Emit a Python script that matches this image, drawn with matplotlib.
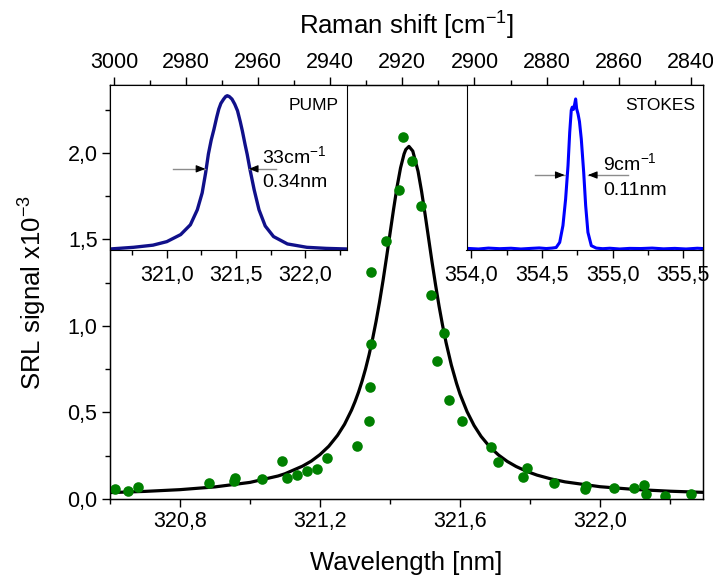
import matplotlib
matplotlib.use('Agg')
import matplotlib.pyplot as plt
from matplotlib.ticker import MultipleLocator, FuncFormatter

plt.rcParams['font.family'] = ['Liberation Sans', 'DejaVu Sans']
plt.rcParams['mathtext.fontset'] = 'custom'
plt.rcParams['mathtext.rm'] = 'Liberation Sans'
plt.rcParams['mathtext.it'] = 'Liberation Sans:italic'
plt.rcParams['mathtext.bf'] = 'Liberation Sans:bold'

# ---------------- data ----------------
srl_wavelength = [320.614, 320.651, 320.681, 320.882, 320.954, 320.958, 321.035, 321.092,
                  321.105, 321.135, 321.164, 321.190, 321.221, 321.305, 321.341, 321.343,
                  321.346, 321.346, 321.389, 321.427, 321.436, 321.462, 321.487, 321.516,
                  321.535, 321.554, 321.567, 321.606, 321.688, 321.709, 321.780, 321.792,
                  321.868, 321.957, 321.959, 322.041, 322.096, 322.125, 322.132, 322.185,
                  322.261]
srl_signal = [0.056, 0.046, 0.068, 0.091, 0.106, 0.120, 0.114, 0.220,
              0.123, 0.137, 0.162, 0.173, 0.239, 0.308, 0.451, 0.646,
              0.894, 1.310, 1.493, 1.786, 2.091, 1.955, 1.695, 1.181,
              0.798, 0.961, 0.572, 0.451, 0.302, 0.216, 0.125, 0.177,
              0.091, 0.056, 0.075, 0.062, 0.065, 0.081, 0.029, 0.019,
              0.029]

fit_wavelength = [320.60, 320.70, 320.80, 320.90, 321.00, 321.08, 321.10, 321.15, 321.175,
                  321.20, 321.225, 321.25, 321.27, 321.29, 321.30, 321.31, 321.32, 321.33,
                  321.34, 321.35, 321.36, 321.37, 321.38, 321.39, 321.40, 321.41, 321.42,
                  321.43, 321.44, 321.445, 321.454, 321.465, 321.48, 321.49, 321.50, 321.51,
                  321.52, 321.53, 321.54, 321.55, 321.56, 321.575, 321.59, 321.60, 321.62,
                  321.64, 321.66, 321.685, 321.71, 321.735, 321.76, 321.79, 321.82, 321.86,
                  321.90, 322.00, 322.10, 322.20, 322.30]
fit_signal = [0.037, 0.044, 0.054, 0.070, 0.096, 0.133, 0.146, 0.190, 0.219,
              0.257, 0.305, 0.368, 0.432, 0.514, 0.563, 0.618, 0.681, 0.752,
              0.833, 0.924, 1.026, 1.139, 1.263, 1.397, 1.536, 1.674, 1.804,
              1.914, 1.994, 2.020, 2.038, 2.011, 1.894, 1.779, 1.647, 1.508,
              1.369, 1.238, 1.115, 1.004, 0.904, 0.775, 0.668, 0.606, 0.505,
              0.425, 0.362, 0.301, 0.254, 0.217, 0.188, 0.160, 0.138, 0.116,
              0.099, 0.071, 0.055, 0.045, 0.038]

pump_wavelength = [320.59, 320.76, 320.90, 321.00, 321.10, 321.17, 321.22, 321.255, 321.28,
                   321.30, 321.32, 321.34, 321.36, 321.375, 321.39, 321.41, 321.425, 321.436,
                   321.45, 321.47, 321.49, 321.51, 321.53, 321.545, 321.565, 321.58, 321.60,
                   321.63, 321.665, 321.71, 321.77, 321.87, 322.01, 322.15, 322.30]
pump_intensity = [0.0, 0.011, 0.025, 0.048, 0.094, 0.158, 0.256, 0.366, 0.497,
                  0.620, 0.710, 0.781, 0.860, 0.913, 0.950, 0.978, 0.995, 1.0,
                  0.995, 0.978, 0.945, 0.902, 0.830, 0.770, 0.680, 0.617, 0.519,
                  0.387, 0.256, 0.150, 0.081, 0.033, 0.011, 0.004, 0.0]

stokes_wavelength = [353.97, 354.05, 354.12, 354.20, 354.28, 354.35, 354.42, 354.48, 354.53,
                     354.57, 354.60, 354.625, 354.648, 354.667, 354.684, 354.696, 354.707,
                     354.714, 354.722, 354.730, 354.738, 354.745, 354.755, 354.765, 354.778,
                     354.795, 354.809, 354.825, 354.849, 354.884, 354.93, 354.98, 355.05,
                     355.12, 355.20, 355.28, 355.36, 355.44, 355.52, 355.60, 355.64]
stokes_intensity = [0.004, 0.0, 0.006, 0.002, 0.005, 0.0, 0.004, 0.007, 0.003,
                    0.006, 0.010, 0.044, 0.156, 0.333, 0.556, 0.778, 0.925,
                    0.945, 0.930, 0.960, 1.0, 0.935, 0.900, 0.850, 0.733,
                    0.511, 0.289, 0.111, 0.022, 0.006, 0.002, 0.005, 0.0,
                    0.004, 0.003, 0.006, 0.001, 0.004, 0.0, 0.005, 0.003]

# ---------------- figure ----------------
W, H = 713, 576
fig = plt.figure(figsize=(W / 100, H / 100), dpi=100)

def frac(l, t, r, b):
    return [l / W, 1 - b / H, (r - l) / W, (b - t) / H]

comma1 = FuncFormatter(lambda v, p: f"{v:.1f}".replace('.', ','))
TICK_FS = 15.5
LABEL_FS = 18.5

def style_ticks(a, which_axes='both', pad=3):
    a.tick_params(axis=which_axes, which='major', direction='out', length=6, width=1.0,
                  labelsize=TICK_FS, pad=pad)
    a.tick_params(axis=which_axes, which='minor', direction='out', length=3.5, width=1.0)

ax = fig.add_axes(frac(110, 85, 703, 499))
ax.plot(fit_wavelength, fit_signal, color='black', lw=2.3, zorder=2)
ax.scatter(srl_wavelength, srl_signal, s=58, color='#008000', linewidths=0, zorder=3)
ax.set_xlim(320.6, 322.294)
ax.set_ylim(0, 2.393)
ax.xaxis.set_major_locator(MultipleLocator(0.4))
ax.xaxis.set_minor_locator(MultipleLocator(0.2))
ax.yaxis.set_major_locator(MultipleLocator(0.5))
ax.yaxis.set_minor_locator(MultipleLocator(0.25))
ax.xaxis.set_major_formatter(comma1)
ax.yaxis.set_major_formatter(comma1)
style_ticks(ax)
for s in ax.spines.values():
    s.set_linewidth(1.0)
ax.set_xlabel('Wavelength [nm]', fontsize=LABEL_FS, labelpad=13)
ax.set_ylabel(r'SRL signal x10$^{\mathregular{-3}}$', fontsize=LABEL_FS, labelpad=13)

top = ax.twiny()
top.set_xlim(3001.1, 2836.6)
top.xaxis.set_major_locator(MultipleLocator(20))
top.xaxis.set_minor_locator(MultipleLocator(10))
top.xaxis.set_major_formatter(FuncFormatter(lambda v, p: f"{v:.0f}"))
style_ticks(top, 'x')
top.set_xlabel(r'Raman shift [cm$^{\mathregular{-1}}$]', fontsize=LABEL_FS, labelpad=12)


def arrow_pair(a, y, l_tail, l_tip, r_tail, r_tip, dx):
    for tail, tip, sgn in [(l_tail, l_tip, 1), (r_tail, r_tip, -1)]:
        a.plot([tail, tip], [y, y], color='#8c8c8c', lw=1.0, zorder=4)
        a.annotate('', xy=(tip, y), xytext=(tip - sgn * dx, y),
                   arrowprops=dict(arrowstyle='-|>,head_length=0.55,head_width=0.22',
                                   color='black', lw=0.8, shrinkA=0, shrinkB=0), zorder=5)

# ---------------- PUMP inset ----------------
ins1 = fig.add_axes(frac(110, 85, 347, 250))
ins1.plot(pump_wavelength, pump_intensity, color='#10108a', lw=2.4)
ins1.set_xlim(320.59, 322.30)
ins1.set_ylim(-0.0066, 1.070)
ins1.xaxis.set_major_locator(MultipleLocator(0.5))
ins1.xaxis.set_minor_locator(MultipleLocator(0.25))
ins1.xaxis.set_major_formatter(comma1)
ins1.set_yticks([])
style_ticks(ins1, 'x', pad=5)
ins1.text(322.24, 0.934, 'PUMP', ha='right', va='center', fontsize=12.5)
arrow_pair(ins1, 0.523, 321.044, 321.278, 321.786, 321.592, 0.06)
ins1.text(321.69, 0.606, r'33cm$^{\mathregular{-1}}$', ha='left', va='center', fontsize=14)
ins1.text(321.69, 0.433, '0.34nm', ha='left', va='center', fontsize=14)

# ---------------- STOKES inset ----------------
ins2 = fig.add_axes(frac(466.5, 85, 703, 250))
ins2.plot(stokes_wavelength, stokes_intensity, color='#0000ff', lw=2.2)
ins2.set_xlim(353.965, 355.64)
ins2.set_ylim(-0.0067, 1.093)
ins2.xaxis.set_major_locator(MultipleLocator(0.5))
ins2.xaxis.set_minor_locator(MultipleLocator(0.25))
ins2.xaxis.set_major_formatter(comma1)
ins2.set_yticks([])
style_ticks(ins2, 'x', pad=5)
ins2.text(355.582, 0.955, 'STOKES', ha='right', va='center', fontsize=12.5)
arrow_pair(ins2, 0.493, 354.447, 354.660, 355.109, 354.825, 0.06)
ins2.text(354.932, 0.573, r'9cm$^{\mathregular{-1}}$', ha='left', va='center', fontsize=14)
ins2.text(354.932, 0.389, '0.11nm', ha='left', va='center', fontsize=14)

fig.savefig('out.png', dpi=100)
